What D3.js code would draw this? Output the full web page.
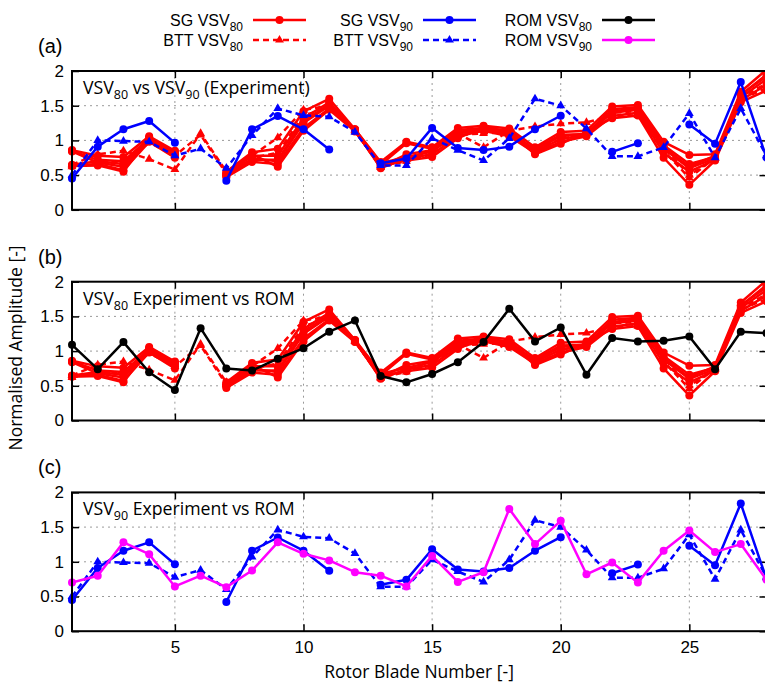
<!DOCTYPE html>
<html>
<head>
<meta charset="utf-8">
<script src="https://cdn.jsdelivr.net/npm/d3@7"></script>
<style>
  body { margin: 0; background: #fff; }
  svg { display: block; }
</style>
</head>
<body>
<svg id="chart" width="765" height="684"></svg>
<script>
// Rotor blade numbers on the x axis
const blades = d3.range(1, 29);
const xTicks = [5, 10, 15, 20, 25];
const yTicks = [0, 0.5, 1, 1.5, 2];
const yTickLabels = ["0", "0.5", "1", "1.5", "2"];
const panelLetters = ["(a)", "(b)", "(c)"];

// Strain-gauge amplitudes at VSV 80 (one run per row)
const sg80Runs = [
  [0.86, 0.78, 0.76, 1.06, 0.85, null, 0.55, 0.83, 0.88, 1.42, 1.60, 1.16, 0.69, 0.98, 0.90, 1.18, 1.21, 1.17, 0.90, 1.12, 1.14, 1.49, 1.51, 0.98, 0.79, 0.80, 1.70, 2.02],
  [0.85, 0.72, 0.70, 1.03, 0.82, null, 0.52, 0.78, 0.78, 1.32, 1.55, 1.15, 0.65, 0.96, 0.88, 1.15, 1.18, 1.14, 0.86, 1.06, 1.10, 1.45, 1.48, 0.93, 0.66, 0.76, 1.65, 1.95],
  [0.84, 0.68, 0.62, 1.00, 0.78, null, 0.50, 0.74, 0.70, 1.25, 1.50, 1.14, 0.62, 0.80, 0.86, 1.10, 1.16, 1.10, 0.84, 1.02, 1.08, 1.40, 1.44, 0.88, 0.60, 0.74, 1.62, 1.88],
  [0.64, 0.66, 0.57, 0.98, 0.75, null, 0.47, 0.69, 0.66, 1.18, 1.46, 1.15, 0.60, 0.74, 0.80, 1.06, 1.14, 1.06, 0.82, 0.98, 1.06, 1.35, 1.40, 0.82, 0.55, 0.72, 1.58, 1.80],
  [0.63, 0.64, 0.55, 1.04, 0.84, null, 0.53, 0.80, 0.62, 1.14, 1.44, 1.13, 0.64, 0.71, 0.76, 1.03, 1.20, 1.12, 0.80, 0.95, 1.12, 1.32, 1.36, 0.75, 0.36, 0.71, 1.55, 1.72],
  [0.65, 0.70, 0.66, 1.01, 0.80, null, 0.49, 0.72, 0.72, 1.28, 1.52, 1.16, 0.67, 0.76, 0.84, 1.12, 1.17, 1.08, 0.88, 1.08, 1.09, 1.42, 1.46, 0.90, 0.62, 0.78, 1.66, 1.92]
];

// Blade-tip-timing amplitudes at VSV 80
const btt80Runs = [
  [0.65, 0.80, 0.85, 0.73, 0.58, 1.10, 0.55, 0.78, 1.04, 1.44, 1.50, 1.15, 0.62, 0.70, 0.80, 1.10, 0.90, 1.14, 1.20, 1.24, 1.26, 1.35, 1.36, 0.85, 0.46, 0.75, 1.60, 1.75],
  [0.62, 0.70, 0.68, 0.97, 0.78, 1.08, 0.52, 0.75, 0.82, 1.36, 1.47, 1.14, 0.61, 0.73, 0.85, 1.08, 1.10, 1.12, 0.85, 1.02, 1.10, 1.40, 1.42, 0.90, 0.50, 0.74, 1.62, 1.82]
];

// Strain-gauge and blade-tip-timing amplitudes at VSV 90
const sg90 = [0.45, 0.91, 1.16, 1.28, 0.965, null, 0.42, 1.16, 1.35, 1.16, 0.87, null, 0.67, 0.74, 1.18, 0.89, 0.86, 0.91, 1.16, 1.355, null, 0.835, 0.96, null, 1.23, 0.95, 1.84, 0.75];
const btt90 = [0.50, 1.00, 0.99, 0.98, 0.78, 0.88, 0.60, 1.07, 1.46, 1.36, 1.34, 1.12, 0.64, 0.64, 1.03, 0.86, 0.71, 1.03, 1.60, 1.50, 1.17, 0.77, 0.77, 0.90, 1.39, 0.75, 1.46, 0.78];

// Reduced-order-model predictions
const rom80 = [1.09, 0.74, 1.13, 0.695, 0.44, 1.33, 0.75, 0.72, 0.89, 1.04, 1.28, 1.44, 0.64, 0.55, 0.67, 0.84, 1.13, 1.61, 1.14, 1.34, 0.66, 1.19, 1.14, 1.15, 1.21, 0.74, 1.28, 1.26];
const rom90 = [0.70, 0.80, 1.28, 1.11, 0.645, 0.80, 0.635, 0.875, 1.28, 1.115, 1.02, 0.85, 0.80, 0.645, 1.085, 0.71, 0.85, 1.76, 1.255, 1.59, 0.82, 0.99, 0.70, 1.16, 1.45, 1.14, 1.255, 0.74];

const RED = "#ff0000", BLUE = "#0000ff", BLACK = "#000000", MAGENTA = "#ff00ff";
const TICK_FONT = "'Liberation Sans', Arial, sans-serif";
const LABEL_FONT = "'Open Sans', 'DejaVu Sans', sans-serif";

const styles = {
  sg80:  { color: RED, dash: null, marker: "circle" },
  btt80: { color: RED, dash: "6,4", marker: "triangle" },
  sg90:  { color: BLUE, dash: null, marker: "circle" },
  btt90: { color: BLUE, dash: "6,4", marker: "triangle" },
  rom80: { color: BLACK, dash: null, marker: "circle" },
  rom90: { color: MAGENTA, dash: null, marker: "circle" }
};

const panels = [
  { title: ["VSV", "80", " vs VSV", "90", " (Experiment)"],
    series: [
      ...sg80Runs.map(v => ({ values: v, style: styles.sg80 })),
      ...btt80Runs.map(v => ({ values: v, style: styles.btt80 })),
      { values: sg90, style: styles.sg90 },
      { values: btt90, style: styles.btt90 }
    ] },
  { title: ["VSV", "80", " Experiment vs ROM"],
    series: [
      ...sg80Runs.map(v => ({ values: v, style: styles.sg80 })),
      ...btt80Runs.map(v => ({ values: v, style: styles.btt80 })),
      { values: rom80, style: styles.rom80 }
    ] },
  { title: ["VSV", "90", " Experiment vs ROM"],
    series: [
      { values: sg90, style: styles.sg90 },
      { values: btt90, style: styles.btt90 },
      { values: rom90, style: styles.rom90 }
    ] }
];

const svg = d3.select("#chart");
const left = 72, right = 766.5;
const panelTops = [71, 281.7, 492.4];
const panelH = 138.8;

const x = d3.scaleLinear().domain([1, 28]).range([left, right]);

// Adds alternating normal / subscript tspans to a text element
function richText(sel, parts, subSize) {
  parts.forEach((p, i) => {
    const sub = i % 2 === 1;
    sel.append("tspan")
      .attr("font-size", sub ? subSize : null)
      .attr("dy", sub ? 5 : (i > 0 ? -5 : 0))
      .text(p);
  });
}

function drawMarker(g, kind, cx, cy, color) {
  if (kind === "circle") {
    g.append("circle").attr("cx", cx).attr("cy", cy).attr("r", 4).attr("fill", color);
  } else {
    g.append("path")
      .attr("d", d3.symbol(d3.symbolTriangle, 34)())
      .attr("transform", `translate(${cx},${cy})`)
      .attr("fill", color);
  }
}

panels.forEach((panel, pi) => {
  const top = panelTops[pi];
  const bottom = top + panelH;
  const y = d3.scaleLinear().domain([0, 2]).range([bottom, top]);
  const g = svg.append("g");

  const clipId = "clip" + pi;
  svg.append("clipPath").attr("id", clipId)
    .append("rect").attr("x", left).attr("y", top).attr("width", right - left).attr("height", panelH);

  // dotted grid
  const grid = g.append("g").attr("stroke", "#9a9a9a").attr("stroke-width", 1).attr("stroke-dasharray", "2,4");
  [0.5, 1, 1.5].forEach(v => grid.append("line")
    .attr("x1", left).attr("x2", right).attr("y1", y(v)).attr("y2", y(v)));
  xTicks.forEach(v => grid.append("line")
    .attr("x1", x(v)).attr("x2", x(v)).attr("y1", top).attr("y2", bottom));

  // y axis labels and inward ticks on both sides
  const yAxisL = d3.axisLeft(y).tickValues(yTicks).tickSizeInner(-7).tickSizeOuter(0)
    .tickPadding(8).tickFormat((d, i) => yTickLabels[i]);
  const ay = g.append("g").attr("transform", `translate(${left},0)`).call(yAxisL);
  ay.select(".domain").remove();
  ay.selectAll("line").attr("stroke", "#000").attr("stroke-width", 1.5);
  ay.selectAll("text").attr("font-family", TICK_FONT).attr("font-size", 17).attr("fill", "#000");

  const yAxisR = d3.axisRight(y).tickValues(yTicks).tickSizeInner(-7).tickSizeOuter(0).tickFormat("");
  const ayr = g.append("g").attr("transform", `translate(${right},0)`).call(yAxisR);
  ayr.select(".domain").remove();
  ayr.selectAll("line").attr("stroke", "#000").attr("stroke-width", 1.5);

  // x axis inward ticks top and bottom
  const xAxisB = d3.axisBottom(x).tickValues(xTicks).tickSizeInner(-7).tickSizeOuter(0)
    .tickPadding(10).tickFormat(pi === 2 ? d3.format("d") : "");
  const axb = g.append("g").attr("transform", `translate(0,${bottom})`).call(xAxisB);
  axb.select(".domain").remove();
  axb.selectAll("line").attr("stroke", "#000").attr("stroke-width", 1.5);
  axb.selectAll("text").attr("font-family", TICK_FONT).attr("font-size", 17).attr("fill", "#000");

  const xAxisT = d3.axisTop(x).tickValues(xTicks).tickSizeInner(-7).tickSizeOuter(0).tickFormat("");
  const axt = g.append("g").attr("transform", `translate(0,${top})`).call(xAxisT);
  axt.select(".domain").remove();
  axt.selectAll("line").attr("stroke", "#000").attr("stroke-width", 1.5);

  // series
  const line = d3.line()
    .defined(d => d.v !== null)
    .x(d => x(d.b))
    .y(d => y(d.v));

  panel.series.forEach(s => {
    const pts = blades.map((b, i) => ({ b, v: s.values[i] }));
    g.append("path")
      .attr("d", line(pts))
      .attr("fill", "none")
      .attr("stroke", s.style.color)
      .attr("stroke-width", 2.5)
      .attr("stroke-dasharray", s.style.dash)
      .attr("stroke-linejoin", "round")
      .attr("clip-path", `url(#${clipId})`);
    const mg = g.append("g");
    pts.filter(d => d.v !== null && d.v <= 2).forEach(d =>
      drawMarker(mg, s.style.marker, x(d.b), y(d.v), s.style.color));
  });

  // frame
  g.append("rect")
    .attr("x", left).attr("y", top).attr("width", right - left).attr("height", panelH)
    .attr("fill", "none").attr("stroke", "#000").attr("stroke-width", 2);

  // inner title
  const t = g.append("text")
    .attr("x", 83).attr("y", top + 23)
    .attr("font-family", LABEL_FONT).attr("font-size", 17.7).attr("fill", "#000");
  richText(t, panel.title, 12.5);

  // panel letter
  g.append("text")
    .attr("x", 38).attr("y", top - 18)
    .attr("font-family", TICK_FONT).attr("font-size", 20).attr("fill", "#000")
    .text(panelLetters[pi]);
});

// axis titles
svg.append("text")
  .attr("transform", "translate(22,348) rotate(-90)")
  .attr("text-anchor", "middle")
  .attr("font-family", LABEL_FONT).attr("font-size", 17.5).attr("fill", "#000")
  .text("Normalised Amplitude [-]");

svg.append("text")
  .attr("x", 419).attr("y", 678)
  .attr("text-anchor", "middle")
  .attr("font-family", LABEL_FONT).attr("font-size", 17.5).attr("fill", "#000")
  .text("Rotor Blade Number [-]");

// legend
const legendItems = [
  { parts: ["SG VSV", "80"], style: styles.sg80, tx: 243, ly: 20 },
  { parts: ["BTT VSV", "80"], style: styles.btt80, tx: 243, ly: 40 },
  { parts: ["SG VSV", "90"], style: styles.sg90, tx: 413, ly: 20 },
  { parts: ["BTT VSV", "90"], style: styles.btt90, tx: 413, ly: 40 },
  { parts: ["ROM VSV", "80"], style: styles.rom80, tx: 592, ly: 20 },
  { parts: ["ROM VSV", "90"], style: styles.rom90, tx: 592, ly: 40 }
];
const lg = svg.append("g");
legendItems.forEach(it => {
  const t = lg.append("text")
    .attr("x", it.tx).attr("y", it.ly + 6)
    .attr("text-anchor", "end")
    .attr("font-family", TICK_FONT).attr("font-size", 16).attr("fill", "#000");
  richText(t, it.parts, 12);
  const x0 = it.tx + 10, x1 = it.tx + 63;
  lg.append("line")
    .attr("x1", x0).attr("x2", x1).attr("y1", it.ly).attr("y2", it.ly)
    .attr("stroke", it.style.color).attr("stroke-width", 2.5)
    .attr("stroke-dasharray", it.style.dash);
  drawMarker(lg, it.style.marker, (x0 + x1) / 2, it.ly, it.style.color);
});
</script>
</body>
</html>
